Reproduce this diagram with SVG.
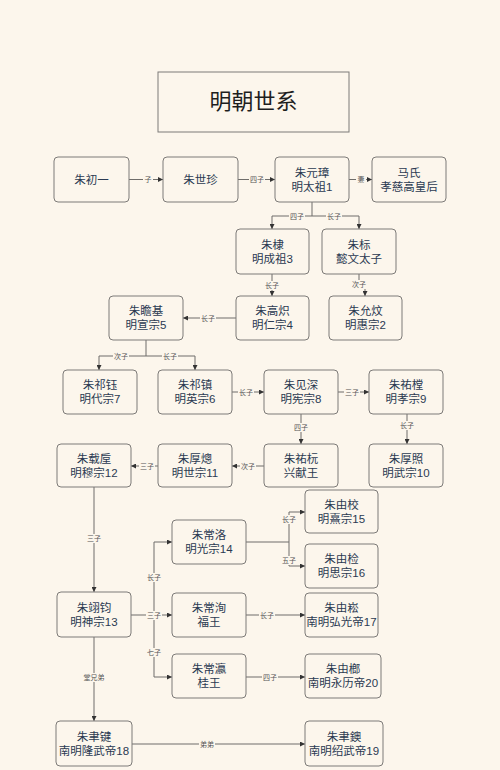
<svg xmlns="http://www.w3.org/2000/svg" width="500" height="770" viewBox="0 0 500 770">
<defs>
<marker id="arr" viewBox="0 0 8 8" refX="8" refY="4" markerWidth="5" markerHeight="5" markerUnits="userSpaceOnUse" orient="auto">
<path d="M0,0 L8,4 L0,8 z" fill="#333"/>
</marker>
</defs>
<style>
.n rect{fill:#fcf6ec;stroke:#7d7b78;stroke-width:1}
.n text{font-family:"Liberation Sans","Noto Sans CJK SC",sans-serif;font-size:11.5px;fill:#2b3a52;text-anchor:middle}
.e path{fill:none;stroke:#6f6d6a;stroke-width:1;marker-end:url(#arr)}
.e path.p{marker-end:none}
.lb rect{fill:#fcf6ec}
.lb text{font-family:"Liberation Sans","Noto Sans CJK SC",sans-serif;font-size:7px;fill:#555;text-anchor:middle;dominant-baseline:central}
</style>
<rect width="500" height="770" fill="#fcf6ec"/>
<g id="title" class="n"><rect x="158" y="72" width="191" height="60"/><text x="253.5" y="109" style="font-size:22px;fill:#1e1e1e">明朝世系</text></g>

<g id="connectors" class="e">
<path d="M129,179.5 H163"/>
<path d="M238,179.5 H275"/>
<path d="M349,179.5 H372"/>
<path class="p" d="M312,202 V216"/>
<path d="M312,216 H272 V229"/>
<path d="M312,216 H359 V229"/>
<path d="M272,274 V296"/>
<path d="M359,274 V285 H365 V296"/>
<path d="M236,318 H183"/>
<path class="p" d="M146,340 V356"/>
<path d="M146,356 H99 V370"/>
<path d="M146,356 H195 V370"/>
<path d="M232,392 H264"/>
<path d="M338,392 H369"/>
<path d="M301,414 V444"/>
<path d="M407,414 V444"/>
<path d="M264,466 H232"/>
<path d="M158,466 H131"/>
<path d="M94,487 V592"/>
<path d="M131,615 H172"/>
<path d="M154,615 V542 H172"/>
<path d="M154,615 V677 H172"/>
<path class="p" d="M246,542 H289"/>
<path d="M289,542 V512 H305"/>
<path d="M289,542 V566 H305"/>
<path d="M246,615 H305"/>
<path d="M246,677 H305"/>
<path d="M94,637 V721"/>
<path d="M132,744 H305"/>
</g>

<g id="labels" class="lb">
<rect x="143" y="175" width="10" height="9"/><text x="148" y="179.5">子</text>
<rect x="249" y="175" width="16" height="9"/><text x="257" y="179.5">四子</text>
<rect x="356" y="175" width="10" height="9"/><text x="361" y="179.5">妻</text>
<rect x="289" y="212" width="16" height="9"/><text x="297" y="216.5">四子</text>
<rect x="326" y="212" width="16" height="9"/><text x="334" y="216.5">长子</text>
<rect x="264" y="281" width="16" height="9"/><text x="272" y="285">长子</text>
<rect x="351" y="280" width="16" height="9"/><text x="359" y="284.5">次子</text>
<rect x="200" y="314" width="16" height="9"/><text x="208" y="318">长子</text>
<rect x="113" y="352" width="16" height="9"/><text x="121" y="356">次子</text>
<rect x="162" y="352" width="16" height="9"/><text x="170" y="356">长子</text>
<rect x="238" y="388" width="16" height="9"/><text x="246" y="392">长子</text>
<rect x="344" y="388" width="16" height="9"/><text x="352" y="392">三子</text>
<rect x="293" y="423" width="16" height="9"/><text x="301" y="427">四子</text>
<rect x="399" y="421" width="16" height="9"/><text x="407" y="425">长子</text>
<rect x="240" y="462" width="16" height="9"/><text x="248" y="466">次子</text>
<rect x="139" y="462" width="16" height="9"/><text x="147" y="466">三子</text>
<rect x="86" y="534" width="16" height="9"/><text x="94" y="538">三子</text>
<rect x="146" y="573" width="16" height="9"/><text x="154" y="577">长子</text>
<rect x="146" y="611" width="16" height="9"/><text x="154" y="615">三子</text>
<rect x="146" y="648" width="16" height="9"/><text x="154" y="652">七子</text>
<rect x="281" y="515" width="16" height="9"/><text x="289" y="519">长子</text>
<rect x="281" y="556" width="16" height="9"/><text x="289" y="560">五子</text>
<rect x="259" y="611" width="16" height="9"/><text x="267" y="615">长子</text>
<rect x="262" y="673" width="16" height="9"/><text x="270" y="677">四子</text>
<rect x="83" y="673" width="22" height="9"/><text x="94" y="677">堂兄弟</text>
<rect x="199" y="740" width="16" height="9"/><text x="207" y="744">弟弟</text>
</g>

<g id="n1" class="n"><rect x="54" y="157" width="75" height="45" rx="4"/><text x="91.5" y="183.5">朱初一</text></g>
<g id="n2" class="n"><rect x="163" y="157" width="75" height="45" rx="4"/><text x="200.5" y="183.5">朱世珍</text></g>
<g id="n3" class="n"><rect x="275" y="157" width="74" height="45" rx="4"/><text x="312" y="176.5">朱元璋<tspan x="312" dy="14.2">明太祖1</tspan></text></g>
<g id="n4" class="n"><rect x="372" y="157" width="74" height="45" rx="4"/><text x="409" y="176.5">马氏<tspan x="409" dy="14.2">孝慈高皇后</tspan></text></g>
<g id="n5" class="n"><rect x="236" y="229" width="73" height="45" rx="4"/><text x="272.5" y="248.5">朱棣<tspan x="272.5" dy="14.2">明成祖3</tspan></text></g>
<g id="n6" class="n"><rect x="322" y="229" width="74" height="45" rx="4"/><text x="359" y="248.5">朱标<tspan x="359" dy="14.2">懿文太子</tspan></text></g>
<g id="n7" class="n"><rect x="236" y="296" width="73" height="44" rx="4"/><text x="272.5" y="315">朱高炽<tspan x="272.5" dy="14.2">明仁宗4</tspan></text></g>
<g id="n8" class="n"><rect x="329" y="296" width="73" height="44" rx="4"/><text x="365.5" y="315">朱允炆<tspan x="365.5" dy="14.2">明惠宗2</tspan></text></g>
<g id="n9" class="n"><rect x="109" y="296" width="74" height="44" rx="4"/><text x="146" y="315">朱瞻基<tspan x="146" dy="14.2">明宣宗5</tspan></text></g>
<g id="n10" class="n"><rect x="63" y="370" width="74" height="44" rx="4"/><text x="100" y="389">朱祁钰<tspan x="100" dy="14.2">明代宗7</tspan></text></g>
<g id="n11" class="n"><rect x="158" y="370" width="74" height="44" rx="4"/><text x="195" y="389">朱祁镇<tspan x="195" dy="14.2">明英宗6</tspan></text></g>
<g id="n12" class="n"><rect x="264" y="370" width="74" height="44" rx="4"/><text x="301" y="389">朱见深<tspan x="301" dy="14.2">明宪宗8</tspan></text></g>
<g id="n13" class="n"><rect x="369" y="370" width="74" height="44" rx="4"/><text x="406" y="389">朱祐樘<tspan x="406" dy="14.2">明孝宗9</tspan></text></g>
<g id="n14" class="n"><rect x="57" y="444" width="74" height="43" rx="4"/><text x="94" y="462.5">朱载垕<tspan x="94" dy="14.2">明穆宗12</tspan></text></g>
<g id="n15" class="n"><rect x="158" y="444" width="74" height="43" rx="4"/><text x="195" y="462.5">朱厚熜<tspan x="195" dy="14.2">明世宗11</tspan></text></g>
<g id="n16" class="n"><rect x="264" y="444" width="74" height="43" rx="4"/><text x="301" y="462.5">朱祐杬<tspan x="301" dy="14.2">兴献王</tspan></text></g>
<g id="n17" class="n"><rect x="369" y="444" width="74" height="43" rx="4"/><text x="406" y="462.5">朱厚照<tspan x="406" dy="14.2">明武宗10</tspan></text></g>
<g id="n18" class="n"><rect x="305" y="490" width="73" height="43" rx="4"/><text x="341.5" y="508.5">朱由校<tspan x="341.5" dy="14.2">明熹宗15</tspan></text></g>
<g id="n19" class="n"><rect x="172" y="520" width="74" height="44" rx="4"/><text x="209" y="539">朱常洛<tspan x="209" dy="14.2">明光宗14</tspan></text></g>
<g id="n20" class="n"><rect x="305" y="544" width="73" height="44" rx="4"/><text x="341.5" y="563">朱由检<tspan x="341.5" dy="14.2">明思宗16</tspan></text></g>
<g id="n21" class="n"><rect x="57" y="592" width="74" height="45" rx="4"/><text x="94" y="611.5">朱翊钧<tspan x="94" dy="14.2">明神宗13</tspan></text></g>
<g id="n22" class="n"><rect x="172" y="593" width="74" height="44" rx="4"/><text x="209" y="612">朱常洵<tspan x="209" dy="14.2">福王</tspan></text></g>
<g id="n23" class="n"><rect x="305" y="593" width="73" height="44" rx="4"/><text x="341.5" y="612">朱由崧<tspan x="341.5" dy="14.2">南明弘光帝17</tspan></text></g>
<g id="n24" class="n"><rect x="172" y="654" width="74" height="44" rx="4"/><text x="209" y="673">朱常瀛<tspan x="209" dy="14.2">桂王</tspan></text></g>
<g id="n25" class="n"><rect x="305" y="654" width="76" height="44" rx="4"/><text x="343" y="673">朱由榔<tspan x="343" dy="14.2">南明永历帝20</tspan></text></g>
<g id="n26" class="n"><rect x="56" y="721" width="76" height="45" rx="4"/><text x="94" y="740.5">朱聿键<tspan x="94" dy="14.2">南明隆武帝18</tspan></text></g>
<g id="n27" class="n"><rect x="305" y="721" width="78" height="45" rx="4"/><text x="344" y="740.5">朱聿鐭<tspan x="344" dy="14.2">南明绍武帝19</tspan></text></g>
</svg>
